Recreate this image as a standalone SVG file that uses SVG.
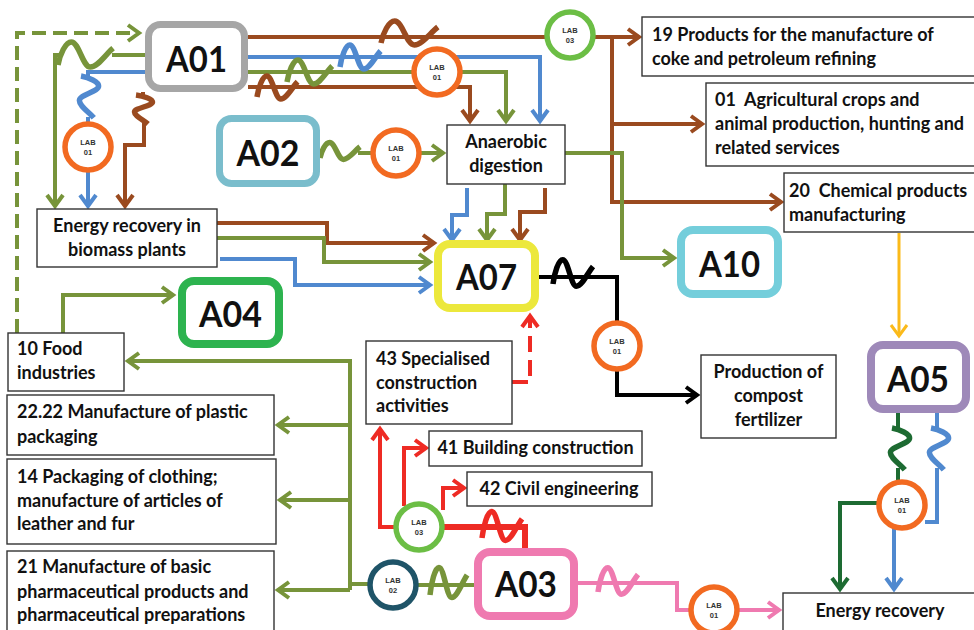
<svg xmlns="http://www.w3.org/2000/svg" xmlns:xlink="http://www.w3.org/1999/xlink" width="974" height="630" viewBox="0 0 974 630">
  <style>
    .bx { fill: #fff; stroke: #333; stroke-width: 1.4; }
    .t { font-family: Lato, "Liberation Sans", sans-serif; font-weight: 700; font-size: 18px; fill: #111; }
    .tc { text-anchor: middle; }
    .mod { fill: #fff; stroke-width: 8; }
    .mt { font-family: Lato, "Liberation Sans", sans-serif; font-weight: 700; font-size: 37px; fill: #111; text-anchor: middle; }
    .lab { fill: #fff; stroke-width: 5.5; }
    .lt { font-family: "Liberation Sans", Arial, sans-serif; font-weight: 700; font-size: 7.5px; fill: #333; text-anchor: middle; }
    .c { fill: none; stroke-width: 4; stroke-linejoin: miter; }
    .w { fill: none; stroke-width: 5.5; }
    .dash { stroke-dasharray: 14 7; }
    .rdash { stroke-dasharray: 16 8; }
    .br { stroke: #9A4A1F; }
    .gr { stroke: #77943A; }
    .bl { stroke: #5089CF; }
    .bk { stroke: #000; }
    .rd { stroke: #EE2B24; }
    .pk { stroke: #EF7AB0; }
    .dg { stroke: #1D6B32; }
    .ye { stroke: #FBBA1A; }
  </style>
  <defs>
    <!-- wave symbol laid over a flow line -->
    <path id="wg" d="M0,0 C2,-10 8,-22 14,-22 C22,-22 26,2 34,2 C42,2 50,-10 58,-16" vector-effect="non-scaling-stroke"/>
    <marker id="m-br" markerUnits="userSpaceOnUse" markerWidth="16" markerHeight="20" refX="0" refY="0" orient="auto" overflow="visible"><path d="M-11,-8 L0,0 L-11,8" fill="none" stroke="#9A4A1F" stroke-width="4"/></marker>
    <marker id="m-gr" markerUnits="userSpaceOnUse" markerWidth="16" markerHeight="20" refX="0" refY="0" orient="auto" overflow="visible"><path d="M-11,-8 L0,0 L-11,8" fill="none" stroke="#77943A" stroke-width="4"/></marker>
    <marker id="m-bl" markerUnits="userSpaceOnUse" markerWidth="16" markerHeight="20" refX="0" refY="0" orient="auto" overflow="visible"><path d="M-11,-8 L0,0 L-11,8" fill="none" stroke="#5089CF" stroke-width="4"/></marker>
    <marker id="m-bk" markerUnits="userSpaceOnUse" markerWidth="16" markerHeight="20" refX="0" refY="0" orient="auto" overflow="visible"><path d="M-11,-8 L0,0 L-11,8" fill="none" stroke="#000" stroke-width="4"/></marker>
    <marker id="m-rd" markerUnits="userSpaceOnUse" markerWidth="16" markerHeight="20" refX="0" refY="0" orient="auto" overflow="visible"><path d="M-11,-8 L0,0 L-11,8" fill="none" stroke="#EE2B24" stroke-width="4"/></marker>
    <marker id="m-pk" markerUnits="userSpaceOnUse" markerWidth="16" markerHeight="20" refX="0" refY="0" orient="auto" overflow="visible"><path d="M-11,-8 L0,0 L-11,8" fill="none" stroke="#EF7AB0" stroke-width="4"/></marker>
    <marker id="m-dg" markerUnits="userSpaceOnUse" markerWidth="16" markerHeight="20" refX="0" refY="0" orient="auto" overflow="visible"><path d="M-11,-8 L0,0 L-11,8" fill="none" stroke="#1D6B32" stroke-width="4"/></marker>
    <marker id="m-ye" markerUnits="userSpaceOnUse" markerWidth="16" markerHeight="20" refX="0" refY="0" orient="auto" overflow="visible"><path d="M-11,-8 L0,0 L-11,8" fill="none" stroke="#FBBA1A" stroke-width="3"/></marker>
  </defs>

  <rect width="974" height="630" fill="#fff"/>

  <g id="connectors">
    <!-- feedback from food industries back to A01 -->
    <path class="c gr dash" d="M17,333 V33 H139" marker-end="url(#m-gr)"/>

    <!-- A01 outputs to the right -->
    <path class="c br" d="M248,37 H639" marker-end="url(#m-br)"/>
    <path class="c br" d="M612,37 V202 H781" marker-end="url(#m-br)"/>
    <path class="c br" d="M612,124 H702" marker-end="url(#m-br)"/>
    <path class="c bl" d="M248,57 H540 V121" marker-end="url(#m-bl)"/>
    <path class="c gr" d="M248,72 H506 V121" marker-end="url(#m-gr)"/>
    <path class="c br" d="M248,87 H470 V121" marker-end="url(#m-br)"/>
    <use href="#wg" class="w br" transform="translate(381,43) scale(0.98,1)"/>
    <use href="#wg" class="w bl" transform="translate(340,67) scale(0.7,1)"/>
    <use href="#wg" class="w gr" transform="translate(287,82) scale(0.78,1)"/>
    <use href="#wg" class="w br" transform="translate(257,97) scale(0.7,0.95)"/>

    <!-- A01 outputs to the left, into biomass energy recovery -->
    <path class="c gr" d="M145,55 H112"/>
    <path class="c gr" d="M60,55 H55 V206" marker-end="url(#m-gr)"/>
    <use href="#wg" class="w gr" transform="translate(58,65) scale(0.95,1.05)"/>
    <path class="c bl" d="M145,72 H88 V77"/>
    <path class="c bl" d="M88,117 V206" marker-end="url(#m-bl)"/>
    <use href="#wg" class="w bl" transform="translate(81,76) rotate(90) scale(0.72,0.8)"/>
    <path class="c br" d="M143,92 V96"/>
    <path class="c br" d="M144,123 V145 H125 V206" marker-end="url(#m-br)"/>
    <use href="#wg" class="w br" transform="translate(136,95) rotate(90) scale(0.5,0.75)"/>

    <!-- A02 into anaerobic digestion -->
    <path class="c gr" d="M358,153 H443" marker-end="url(#m-gr)"/>
    <use href="#wg" class="w gr" transform="translate(320,158) scale(0.69,0.7)"/>

    <!-- biomass plants into A07 -->
    <path class="c br" d="M217,223 H327 V243 H434" marker-end="url(#m-br)"/>
    <path class="c gr" d="M217,238 H324 V262 H430" marker-end="url(#m-gr)"/>
    <path class="c bl" d="M220,259 H295 V285 H430" marker-end="url(#m-bl)"/>

    <!-- anaerobic digestion into A07 and A10 -->
    <path class="c bl" d="M467,188 V215 H452 V240" marker-end="url(#m-bl)"/>
    <path class="c gr" d="M505,184 V214 H487 V240" marker-end="url(#m-gr)"/>
    <path class="c br" d="M545,188 V212 H520 V240" marker-end="url(#m-br)"/>
    <path class="c gr" d="M565,153 H622 V258 H674" marker-end="url(#m-gr)"/>

    <!-- A07 to compost -->
    <path class="c bk" d="M539,277 H617 V395 H697" marker-end="url(#m-bk)"/>
    <use href="#wg" class="w bk" transform="translate(553,284) scale(0.69,1.1)"/>

    <!-- specialised construction back to A07 -->
    <path class="c rd rdash" d="M512,382 H530 V316" marker-end="url(#m-rd)"/>

    <!-- chemical products to A05 -->
    <path class="c ye" d="M899,233 V336" style="stroke-width:3" marker-end="url(#m-ye)"/>

    <!-- food industries to A04 -->
    <path class="c gr" d="M63,333 V295 H173" marker-end="url(#m-gr)"/>

    <!-- A03 packaging distribution trunk -->
    <path class="c gr" d="M350,590 V361 H128" marker-end="url(#m-gr)"/>
    <path class="c gr" d="M350,425 H278" marker-end="url(#m-gr)"/>
    <path class="c gr" d="M350,500 H280" marker-end="url(#m-gr)"/>
    <path class="c gr" d="M350,590 H278" marker-end="url(#m-gr)"/>
    <path class="c gr" d="M372,584 H348"/>
    <path class="c gr" d="M414,585 H476"/>
    <use href="#wg" class="w gr" transform="translate(430,595) scale(0.64,1.25)"/>

    <!-- A03 to energy recovery -->
    <path class="c pk" d="M578,583 H677 V610 H779" marker-end="url(#m-pk)"/>
    <use href="#wg" class="w pk" transform="translate(598,592) scale(0.69,1.1)"/>

    <!-- A03 to construction activities -->
    <path class="c rd" d="M525,550 V527 H440" style="stroke-width:6"/>
    <use href="#wg" class="w rd" transform="translate(482,538) scale(0.69,1.2)"/>
    <path class="c rd" d="M398,527 H380 V429" marker-end="url(#m-rd)"/>
    <path class="c rd" d="M404,506 V448 H426" marker-end="url(#m-rd)"/>
    <path class="c rd" d="M443,510 V488 H464" marker-end="url(#m-rd)"/>

    <!-- A05 to energy recovery -->
    <path class="c dg" d="M898,413 V428"/>
    <path class="c dg" d="M898,468 V484"/>
    <use href="#wg" class="w dg" transform="translate(892,428) rotate(90) scale(0.72,0.8)"/>
    <path class="c dg" d="M879,503 H840 V589" marker-end="url(#m-dg)"/>
    <path class="c bl" d="M937,413 V428"/>
    <path class="c bl" d="M937,468 V522 H925"/>
    <use href="#wg" class="w bl" transform="translate(931,428) rotate(90) scale(0.72,0.8)"/>
    <path class="c bl" d="M894,528 V589" marker-end="url(#m-bl)"/>
  </g>

  <!-- lab nodes -->
  <g id="lab-a01-left"><circle class="lab" cx="88" cy="147" r="23" stroke="#F26A21"/><text class="lt" x="88" y="145">LAB</text><text class="lt" x="88" y="155">01</text></g>
  <g id="lab-a01-top"><circle class="lab" cx="437" cy="72" r="23" stroke="#F26A21"/><text class="lt" x="437" y="70">LAB</text><text class="lt" x="437" y="80">01</text></g>
  <g id="lab-03-top"><circle class="lab" cx="570" cy="35" r="23" stroke="#6CBE45"/><text class="lt" x="570" y="33">LAB</text><text class="lt" x="570" y="43">03</text></g>
  <g id="lab-a02"><circle class="lab" cx="396" cy="153" r="23" stroke="#F26A21"/><text class="lt" x="396" y="151">LAB</text><text class="lt" x="396" y="161">01</text></g>
  <g id="lab-a07"><circle class="lab" cx="617" cy="346" r="23" stroke="#F26A21"/><text class="lt" x="617" y="344">LAB</text><text class="lt" x="617" y="354">01</text></g>
  <g id="lab-03-a03"><circle class="lab" cx="419" cy="527" r="23" stroke="#6CBE45"/><text class="lt" x="419" y="525">LAB</text><text class="lt" x="419" y="535">03</text></g>
  <g id="lab-02"><circle class="lab" cx="393" cy="585" r="23" stroke="#1F5468"/><text class="lt" x="393" y="583">LAB</text><text class="lt" x="393" y="593">02</text></g>
  <g id="lab-a03"><circle class="lab" cx="714" cy="610" r="23" stroke="#F26A21"/><text class="lt" x="714" y="608">LAB</text><text class="lt" x="714" y="618">01</text></g>
  <g id="lab-a05"><circle class="lab" cx="902" cy="505" r="23" stroke="#F26A21"/><text class="lt" x="902" y="503">LAB</text><text class="lt" x="902" y="513">01</text></g>

  <!-- activity modules -->
  <g id="A01"><rect class="mod" x="148.5" y="24.5" width="96" height="64" rx="12" stroke="#A6A6A6" style="stroke-width:7"/><text class="mt" x="196.5" y="72" textLength="61" lengthAdjust="spacingAndGlyphs">A01</text></g>
  <g id="A02"><rect class="mod" x="219.5" y="118.5" width="97" height="65" rx="12" stroke="#7ABDCC" style="stroke-width:7"/><text class="mt" x="268" y="166" textLength="63" lengthAdjust="spacingAndGlyphs">A02</text></g>
  <g id="A07"><rect class="mod" x="438" y="244" width="97" height="64" rx="12" stroke="#ECE83C"/><text class="mt" x="486.5" y="290" textLength="61" lengthAdjust="spacingAndGlyphs">A07</text></g>
  <g id="A10"><rect class="mod" x="681" y="230" width="97" height="64" rx="12" stroke="#74CEDB"/><text class="mt" x="729.5" y="277" textLength="61" lengthAdjust="spacingAndGlyphs">A10</text></g>
  <g id="A04"><rect class="mod" x="182" y="281" width="97" height="63" rx="12" stroke="#2DB34F"/><text class="mt" x="230.5" y="327" textLength="63" lengthAdjust="spacingAndGlyphs">A04</text></g>
  <g id="A05"><rect class="mod" x="871" y="345" width="95" height="64" rx="12" stroke="#9E89B9"/><text class="mt" x="918" y="392" textLength="62" lengthAdjust="spacingAndGlyphs">A05</text></g>
  <g id="A03"><rect class="mod" x="478" y="552" width="96" height="64" rx="12" stroke="#EF7AB0"/><text class="mt" x="526" y="597" textLength="62" lengthAdjust="spacingAndGlyphs">A03</text></g>

  <!-- sector and process boxes -->
  <g id="n19"><rect class="bx" x="642" y="17" width="345" height="59"/><text class="t" x="652" y="41">19 Products for the manufacture of</text><text class="t" x="652" y="65">coke and petroleum refining</text></g>
  <g id="n01"><rect class="bx" x="706" y="83" width="280" height="83"/><text class="t" x="715" y="106" xml:space="preserve">01  Agricultural crops and</text><text class="t" x="715" y="130">animal production, hunting and</text><text class="t" x="715" y="154">related services</text></g>
  <g id="n20"><rect class="bx" x="784" y="173" width="202" height="59"/><text class="t" x="789" y="197" xml:space="preserve">20  Chemical products</text><text class="t" x="789" y="221">manufacturing</text></g>
  <g id="anaerobic"><rect class="bx" x="447" y="125" width="118" height="59"/><text class="t tc" x="506" y="148">Anaerobic</text><text class="t tc" x="506" y="172">digestion</text></g>
  <g id="biomass"><rect class="bx" x="37" y="209" width="180" height="58"/><text class="t tc" x="127" y="232">Energy recovery in</text><text class="t tc" x="127" y="256">biomass plants</text></g>
  <g id="n10"><rect class="bx" x="8" y="333" width="116" height="58"/><text class="t" x="17" y="355">10 Food</text><text class="t" x="17" y="379">industries</text></g>
  <g id="n2222"><rect class="bx" x="7" y="395" width="267" height="60"/><text class="t" x="17" y="418">22.22 Manufacture of plastic</text><text class="t" x="17" y="443">packaging</text></g>
  <g id="n14"><rect class="bx" x="7" y="459" width="269" height="85"/><text class="t" x="17" y="483">14 Packaging of clothing;</text><text class="t" x="17" y="507">manufacture of articles of</text><text class="t" x="17" y="530">leather and fur</text></g>
  <g id="n21"><rect class="bx" x="7" y="551" width="267" height="90"/><text class="t" x="17" y="573">21 Manufacture of basic</text><text class="t" x="17" y="598">pharmaceutical products and</text><text class="t" x="17" y="621">pharmaceutical preparations</text></g>
  <g id="n43"><rect class="bx" x="366" y="341" width="146" height="83"/><text class="t" x="376" y="365">43 Specialised</text><text class="t" x="376" y="389">construction</text><text class="t" x="376" y="412">activities</text></g>
  <g id="n41"><rect class="bx" x="429" y="431" width="213" height="35"/><text class="t tc" x="535.5" y="454">41 Building construction</text></g>
  <g id="n42"><rect class="bx" x="467" y="472" width="185" height="34"/><text class="t tc" x="559" y="495">42 Civil engineering</text></g>
  <g id="compost"><rect class="bx" x="701" y="355" width="135" height="83"/><text class="t tc" x="768.5" y="378">Production of</text><text class="t tc" x="768.5" y="402">compost</text><text class="t tc" x="768.5" y="426">fertilizer</text></g>
  <g id="energy"><rect class="bx" x="783" y="593" width="205" height="45"/><text class="t tc" x="880" y="617">Energy recovery</text></g>
</svg>
